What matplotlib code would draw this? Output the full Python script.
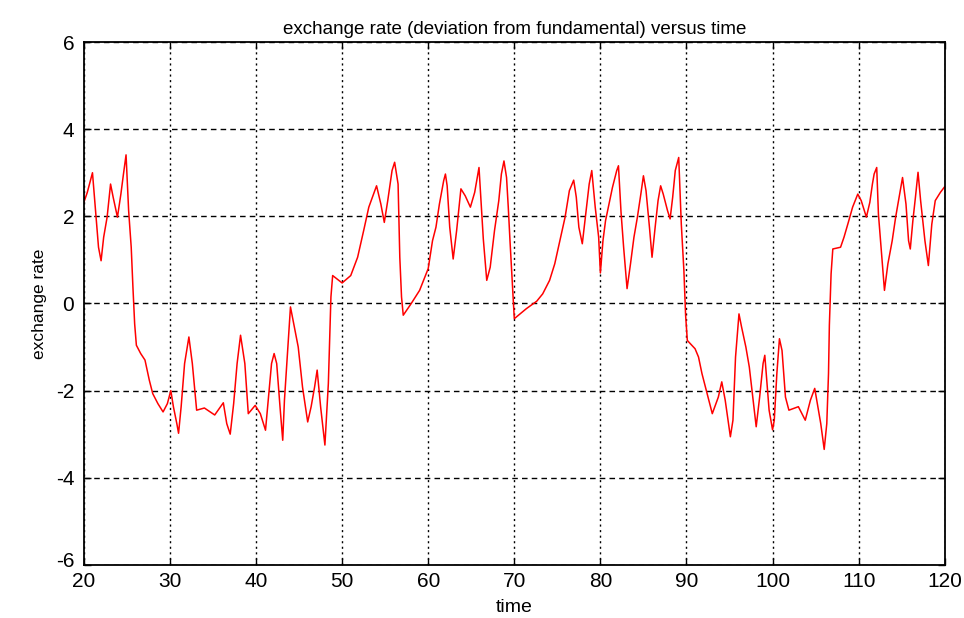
import numpy as np
import matplotlib.pyplot as plt
import matplotlib.transforms as mtransforms

# exchange rate (deviation from fundamental)
time = [20.0, 20.4, 21.0, 21.3, 21.7, 22.0, 22.3, 22.7, 23.1, 23.4, 23.9, 24.3, 24.6, 24.9,
        25.2, 25.5, 25.7, 25.9, 26.1, 26.6, 27.1, 27.6, 28.0, 28.6, 29.2, 29.7, 30.1, 30.4,
        30.8, 31.0, 31.3, 31.7, 32.2, 32.6, 33.1, 34.0, 35.2, 36.2, 36.6, 37.0, 37.4, 37.8,
        38.2, 38.7, 39.1, 39.9, 40.5, 41.1, 41.4, 41.8, 42.1, 42.4, 42.8, 43.1, 43.3, 43.7,
        44.0, 44.3, 44.9, 45.4, 46.0, 46.4, 46.8, 47.1, 47.5, 48.0, 48.4, 48.7, 48.9, 50.0,
        51.0, 51.8, 52.5, 53.1, 54.0, 54.5, 54.9, 55.3, 55.8, 56.1, 56.5, 56.7, 56.9, 57.1,
        58.0, 59.0, 60.0, 60.5, 60.9, 61.3, 61.8, 62.0, 62.2, 62.5, 62.9, 63.3, 63.8, 64.3,
        64.9, 65.4, 65.7, 65.9, 66.2, 66.4, 66.8, 67.2, 67.7, 68.2, 68.5, 68.8, 69.1, 69.3,
        69.5, 69.7, 69.9, 70.0, 71.4, 72.6, 73.3, 74.1, 74.7, 75.3, 75.9, 76.4, 76.9, 77.2,
        77.5, 77.9, 78.3, 78.7, 79.0, 79.4, 79.8, 80.0, 80.3, 80.6, 81.0, 81.4, 81.9, 82.1,
        82.4, 82.7, 83.1, 83.5, 83.9, 84.3, 84.7, 85.0, 85.3, 85.7, 86.0, 86.4, 86.7, 87.0,
        87.3, 87.8, 88.1, 88.4, 88.7, 89.1, 89.4, 89.7, 89.9, 90.1, 91.0, 91.4, 91.8, 92.4,
        93.0, 93.7, 94.1, 94.5, 95.1, 95.4, 95.7, 96.1, 96.4, 96.9, 97.3, 97.7, 98.1, 98.5,
        98.9, 99.1, 99.6, 100.0, 100.2, 100.5, 100.8, 101.1, 101.5, 101.9, 103.0, 103.8,
        104.4, 104.9, 105.2, 105.6, 106.0, 106.3, 106.5, 106.6, 106.8, 107.0, 107.9, 108.3,
        108.8, 109.3, 109.9, 110.3, 110.9, 111.3, 111.6, 111.8, 112.1, 112.3, 112.6, 113.0,
        113.4, 113.9, 114.3, 114.7, 115.1, 115.5, 115.8, 116.0, 116.3, 116.6, 116.9, 117.2,
        117.7, 118.1, 118.5, 118.9, 119.5, 120.0]
rate = [2.32, 2.55, 3.00, 2.28, 1.29, 0.98, 1.52, 1.98, 2.74, 2.44, 1.98, 2.51, 2.97, 3.41,
        2.13, 1.29, 0.37, -0.47, -0.96, -1.15, -1.30, -1.76, -2.07, -2.30, -2.49, -2.30, -2.00, -2.37,
        -2.76, -2.98, -2.37, -1.38, -0.77, -1.38, -2.45, -2.40, -2.56, -2.28, -2.76, -3.00, -2.30, -1.38,
        -0.73, -1.38, -2.53, -2.34, -2.53, -2.91, -2.26, -1.38, -1.15, -1.38, -2.41, -3.14, -2.22, -1.00,
        -0.08, -0.39, -1.00, -1.92, -2.72, -2.37, -1.92, -1.53, -2.37, -3.25, -1.84, 0.15, 0.64, 0.47,
        0.64, 1.06, 1.67, 2.21, 2.70, 2.28, 1.86, 2.36, 3.05, 3.24, 2.74, 1.06, 0.15, -0.27,
        -0.01, 0.30, 0.80, 1.44, 1.75, 2.28, 2.82, 2.97, 2.70, 1.75, 1.02, 1.67, 2.63, 2.47,
        2.21, 2.55, 2.89, 3.12, 2.13, 1.48, 0.53, 0.83, 1.67, 2.36, 2.97, 3.27, 2.89, 2.21,
        1.44, 0.72, -0.01, -0.35, -0.12, 0.05, 0.22, 0.53, 0.91, 1.44, 1.98, 2.59, 2.83, 2.44,
        1.75, 1.37, 2.05, 2.74, 3.05, 2.21, 1.52, 0.70, 1.44, 1.90, 2.28, 2.66, 3.05, 3.16,
        2.09, 1.29, 0.34, 0.91, 1.52, 1.98, 2.51, 2.93, 2.59, 1.75, 1.06, 1.82, 2.36, 2.70,
        2.51, 2.13, 1.94, 2.44, 3.05, 3.35, 1.82, 0.76, -0.27, -0.85, -1.04, -1.23, -1.61, -2.07,
        -2.53, -2.15, -1.80, -2.22, -3.06, -2.68, -1.23, -0.24, -0.54, -1.00, -1.46, -2.15, -2.83, -2.15,
        -1.38, -1.19, -2.45, -2.90, -2.68, -1.61, -0.81, -1.08, -2.15, -2.45, -2.37, -2.68,
        -2.22, -1.95, -2.30, -2.76, -3.35, -2.76, -1.61, -0.50, 0.68, 1.25, 1.29, 1.52,
        1.86, 2.21, 2.51, 2.36, 1.98, 2.32, 2.74, 2.97, 3.12, 2.05, 1.29, 0.30,
        0.91, 1.44, 1.98, 2.44, 2.89, 2.28, 1.44, 1.25, 1.90, 2.44, 3.01, 2.36,
        1.44, 0.87, 1.82, 2.36, 2.55, 2.68]

xticks = np.arange(20, 121, 10)
yticks = np.arange(-6, 7, 2)

plt.rcParams['font.family'] = ['Liberation Sans', 'DejaVu Sans']
plt.rcParams['axes.unicode_minus'] = False

fig = plt.figure(figsize=(9.64, 6.18), dpi=100)
ax = fig.add_axes([0.087, 0.086, 0.893, 0.846])
ax.plot(time, rate, color='red', lw=1.1)

ax.set_xlim(20, 120)
ax.set_ylim(-6, 6)
ax.set_xticks(xticks)
ax.set_yticks(yticks)
ax.tick_params(direction='in', top=True, right=True, length=5, labelsize=15, width=1)
ax.tick_params(axis='x', pad=5)
ax.tick_params(axis='y', pad=7)
# the bottom y label sits slightly above the axis line, as in the original
lab = ax.get_yticklabels()[0]
lab.set_transform(lab.get_transform() + mtransforms.ScaledTranslation(0, 4 / 72, fig.dpi_scale_trans))

ax.xaxis.grid(True, color='black', linestyle=(0, (1.5, 2.5)), lw=1)
ax.yaxis.grid(True, color='black', linestyle=(0, (4, 3)), lw=1)
for s in ax.spines.values():
    s.set_linewidth(1.3)

ax.set_title('exchange rate (deviation from fundamental) versus time', fontsize=13.5, pad=6)
ax.set_xlabel('time', fontsize=14, labelpad=6)
ax.set_ylabel('exchange rate', fontsize=12.5, labelpad=6)

fig.savefig('out.png', dpi=100)
